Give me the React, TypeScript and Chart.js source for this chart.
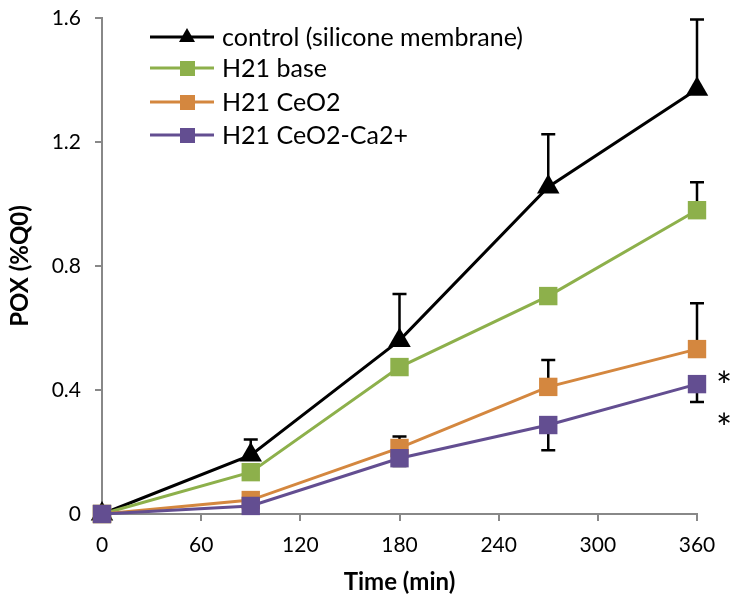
import React, { useEffect, useRef } from "react";
import { Chart, registerables } from "chart.js";

Chart.register(...registerables);

const times = [0, 90, 180, 270, 360];
const xTicks = [0, 60, 120, 180, 240, 300, 360];
const yTicks = [0, 0.4, 0.8, 1.2, 1.6];

const seriesNames = ["control (silicone membrane)", "H21 base", "H21 CeO2", "H21 CeO2-Ca2+"];
const controlValues = [0, 0.19, 0.56, 1.055, 1.37];
const baseValues = [0, 0.135, 0.474, 0.703, 0.98];
const ceo2Values = [0, 0.045, 0.213, 0.41, 0.532];
const caValues = [0, 0.026, 0.18, 0.287, 0.419];

// error magnitudes (drawn upward for the first three series, downward for the last)
const controlErr = [0, 0.05, 0.15, 0.17, 0.225];
const baseErr = [0, 0, 0, 0, 0.09];
const ceo2Err = [0, 0, 0.037, 0.087, 0.148];
const caErr = [0, 0, 0.025, 0.081, 0.058];

// significance asterisks next to the last time point
const asteriskValues = [0.368, 0.231];
const asteriskTime = 360;

const colors = ["#000000", "#8DB04B", "#D4873F", "#634E91"];
const markers = ["triangle", "rect", "rect", "rect"];

const FONT = "Lato, 'Open Sans', sans-serif";

export default function App() {
  const ref = useRef<HTMLCanvasElement | null>(null);
  useEffect(() => {
    document.body.style.margin = "0";
    const values = [controlValues, baseValues, ceo2Values, caValues];
    const errs = [controlErr, baseErr, ceo2Err, caErr];
    const dirs = [1, 1, 1, -1];

    const errorBars = {
      id: "errorBars",
      beforeDatasetsDraw(chart: any) {
        const { ctx, scales } = chart;
        const xs = scales.x, ys = scales.y;
        ctx.save();
        ctx.strokeStyle = "#000";
        ctx.lineWidth = 2.5;
        values.forEach((vals, si) => {
          vals.forEach((v, i) => {
            const e = errs[si][i];
            if (!e) return;
            const px = xs.getPixelForValue(times[i]);
            const py = ys.getPixelForValue(v);
            const pe = ys.getPixelForValue(v + dirs[si] * e);
            ctx.beginPath();
            ctx.moveTo(px, py);
            ctx.lineTo(px, pe);
            ctx.moveTo(px - 7, pe);
            ctx.lineTo(px + 7, pe);
            ctx.stroke();
          });
        });
        ctx.restore();
      },
      afterDraw(chart: any) {
        const { ctx, scales } = chart;
        ctx.save();
        // legend
        const rowsY = [37, 68, 102, 135];
        seriesNames.forEach((name, i) => {
          const y = rowsY[i];
          ctx.strokeStyle = colors[i];
          ctx.lineWidth = 3;
          ctx.beginPath();
          ctx.moveTo(150, y);
          ctx.lineTo(214, y);
          ctx.stroke();
          ctx.fillStyle = colors[i];
          if (markers[i] === "triangle") {
            ctx.beginPath();
            ctx.moveTo(187, y - 9);
            ctx.lineTo(195, y + 5);
            ctx.lineTo(179, y + 5);
            ctx.closePath();
            ctx.fill();
          } else {
            ctx.fillRect(180, y - 7, 15, 15);
          }
          ctx.fillStyle = "#000";
          ctx.font = `25px ${FONT}`;
          ctx.textBaseline = "middle";
          ctx.textAlign = "left";
          ctx.fillText(name, 222, y + 1);
        });
        // asterisks
        const xs = scales.x, ys = scales.y;
        ctx.font = `38px ${FONT}`;
        ctx.textAlign = "center";
        ctx.textBaseline = "alphabetic";
        ctx.fillStyle = "#000";
        const ax = xs.getPixelForValue(asteriskTime) + 27;
        asteriskValues.forEach((v) => ctx.fillText("*", ax, ys.getPixelForValue(v)));
        ctx.restore();
      },
    };

    const chart = new Chart(ref.current as HTMLCanvasElement, {
      type: "line",
      data: {
        datasets: values.map((vals, si) => ({
          label: seriesNames[si],
          data: vals.map((v, i) => ({ x: times[i], y: v })),
          borderColor: colors[si],
          backgroundColor: colors[si],
          borderWidth: 3,
          pointStyle: markers[si] as any,
          pointRadius: 13,
          pointBorderWidth: 0,
          pointHoverRadius: 13,
          order: 3 - si,
          tension: 0,
          clip: false as any,
        })),
      },
      plugins: [errorBars],
      options: {
        animation: false,
        responsive: false,
        layout: { padding: { top: 18, right: 37, left: 0, bottom: 0 } },
        plugins: { legend: { display: false }, tooltip: { enabled: false } },
        scales: {
          x: {
            type: "linear",
            min: 0,
            max: 360,
            afterBuildTicks: (axis: any) => {
              axis.ticks = xTicks.map((v) => ({ value: v }));
            },
            afterFit: (axis: any) => {
              axis.height = 88;
              axis.paddingLeft = 0;
              axis.paddingRight = 0;
            },
            grid: { drawOnChartArea: false, drawTicks: true, tickLength: 7, color: "#888", lineWidth: 2 },
            border: { display: true, color: "#888", width: 2 },
            ticks: { color: "#000", font: { family: FONT, size: 21 }, padding: 12, maxRotation: 0 },
            title: {
              display: true,
              text: "Time (min)",
              color: "#000",
              font: { family: FONT, size: 24, weight: "bold" },
              padding: { top: 4, bottom: 5 },
            },
          },
          y: {
            type: "linear",
            min: 0,
            max: 1.6,
            afterBuildTicks: (axis: any) => {
              axis.ticks = yTicks.map((v) => ({ value: v }));
            },
            afterFit: (axis: any) => {
              axis.width = 102;
              axis.paddingTop = 0;
              axis.paddingBottom = 0;
            },
            grid: { drawOnChartArea: false, drawTicks: true, tickLength: 7, color: "#888", lineWidth: 2 },
            border: { display: true, color: "#888", width: 2 },
            ticks: {
              color: "#000",
              font: { family: FONT, size: 21 },
              padding: 14,
              callback: (v: any) => (v === 0 ? "0" : Number(v).toFixed(1)),
            },
            title: {
              display: true,
              text: "POX (%Q0)",
              color: "#000",
              font: { family: FONT, size: 24, weight: "bold" },
              padding: { top: 6, bottom: 4 },
            },
          },
        },
      },
    });
    return () => chart.destroy();
  }, []);
  return (
    <div style={{ position: "absolute", left: 0, top: 0, width: 734, height: 602, background: "#fff" }}>
      <canvas ref={ref} width={734} height={602} style={{ width: 734, height: 602 }} />
    </div>
  );
}
